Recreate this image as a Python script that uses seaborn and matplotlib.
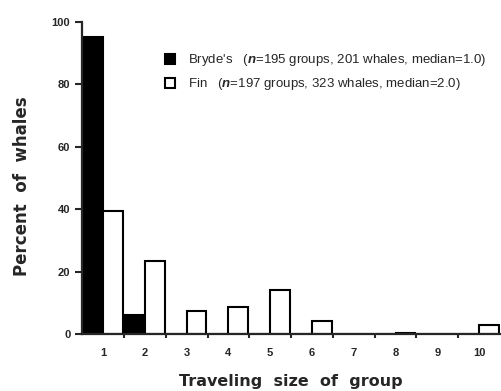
import numpy as np
import pandas as pd
import matplotlib
matplotlib.use("Agg")
import matplotlib.pyplot as plt
import seaborn as sns
from matplotlib.patches import Patch
from matplotlib.ticker import FixedLocator

# Данные
sizes = ["1", "2", "3", "4", "5", "6", "7", "8", "9", "10"]
brydes = [95.0, 6.0, 0, 0, 0, 0, 0, 0, 0, 0]
fin = [39.5, 23.5, 7.4, 8.7, 14.1, 4.2, 0, 0.2, 0, 2.9]
species = ["Bryde's", "Fin"]
legend_labels = [
    r"Bryde's   ($n$=195 groups, 201 whales, median=1.0)",
    r"Fin   ($n$=197 groups, 323 whales, median=2.0)",
]

df = pd.DataFrame({
    "size": sizes * 2,
    "percent": brydes + fin,
    "species": [species[0]] * len(sizes) + [species[1]] * len(sizes),
})

sns.set_style("ticks")
plt.rcParams["font.family"] = ["Liberation Sans", "DejaVu Sans"]
plt.rcParams["mathtext.fontset"] = "custom"
plt.rcParams["mathtext.it"] = "Liberation Sans:italic:bold"
plt.rcParams["mathtext.rm"] = "Liberation Sans"

fig = plt.figure(figsize=(5.01, 3.91), dpi=100)
ax = fig.add_axes([0.164, 0.146, 0.834, 0.798])

sns.barplot(data=df, x="size", y="percent", hue="species", order=sizes,
            palette={"Bryde's": "black", "Fin": "white"}, width=0.95,
            edgecolor="black", linewidth=1.5, ax=ax, legend=False)

ax.set_xlim(-0.5, 9.5)
ax.set_ylim(0, 100)
ax.set_yticks([0, 20, 40, 60, 80, 100])
ax.xaxis.set_minor_locator(FixedLocator(np.arange(0.5, 9.5, 1)))
ax.tick_params(axis="x", which="major", length=0, pad=10, labelsize=8)
ax.tick_params(axis="x", which="minor", length=3, width=1.5, direction="out")
ax.tick_params(axis="y", length=5, width=1.5, labelsize=8)
for lbl in ax.get_xticklabels() + ax.get_yticklabels():
    lbl.set_fontweight("bold")

sns.despine(ax=ax)
ax.spines["left"].set_linewidth(1.6)
ax.spines["bottom"].set_linewidth(1.6)

ax.set_xlabel("Traveling  size  of  group", fontsize=11.5, family="DejaVu Sans",
              fontweight="bold", labelpad=12)
ax.set_ylabel("Percent  of  whales", fontsize=12, family="DejaVu Sans",
              fontweight="bold")
ax.yaxis.set_label_coords(-0.122, 0.474)

handles = [Patch(facecolor="black", edgecolor="black", linewidth=1.5),
           Patch(facecolor="white", edgecolor="black", linewidth=1.5)]
ax.legend(handles, legend_labels, frameon=False, loc="upper left",
          bbox_to_anchor=(0.17, 0.94), prop={"size": 9.5},
          handlelength=0.75, handleheight=0.75, handletextpad=1.0, labelspacing=0.6)

fig.savefig("out.png", dpi=100)
